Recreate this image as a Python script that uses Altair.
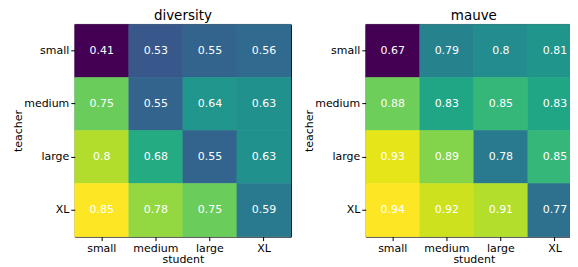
import altair as alt
import pandas as pd

sizes = ["small", "medium", "large", "XL"]

# rows = teacher (top to bottom), columns = student (left to right)
diversity = [
    [0.41, 0.53, 0.55, 0.56],
    [0.75, 0.55, 0.64, 0.63],
    [0.80, 0.68, 0.55, 0.63],
    [0.85, 0.78, 0.75, 0.59],
]
mauve = [
    [0.67, 0.79, 0.80, 0.81],
    [0.88, 0.83, 0.85, 0.83],
    [0.93, 0.89, 0.78, 0.85],
    [0.94, 0.92, 0.91, 0.77],
]


def to_df(matrix):
    rows = []
    for i, t in enumerate(sizes):
        for j, s in enumerate(sizes):
            v = matrix[i][j]
            rows.append({"teacher": t, "student": s, "value": v, "label": str(v)})
    return pd.DataFrame(rows)


FONT = "DejaVu Sans"


def panel(matrix, title):
    df = to_df(matrix)
    base = alt.Chart(df).encode(
        x=alt.X("student:N", sort=sizes, title="student",
                axis=alt.Axis(labelAngle=0)),
        y=alt.Y("teacher:N", sort=sizes, title="teacher"),
    )
    vals = [v for r in matrix for v in r]
    sc = alt.Scale(scheme="viridis", domain=[min(vals), max(vals)])
    rect = base.mark_rect(strokeWidth=0.6).encode(
        color=alt.Color("value:Q", scale=sc, legend=None),
        stroke=alt.Stroke("value:Q", scale=sc, legend=None),
    )
    text = base.mark_text(color="white", font=FONT, fontSize=11).encode(
        text="label:N"
    )
    return (rect + text).properties(
        width=217, height=213,
        title=alt.TitleParams(title, font=FONT, fontSize=13.5, fontWeight="normal",
                              offset=1.5, color="black"),
    )


chart = alt.hconcat(panel(diversity, "diversity"), panel(mauve, "mauve"), spacing=11).resolve_scale(
    color="independent", stroke="independent"
).properties(
    padding={"left": 4, "top": 0, "right": -13, "bottom": 0}
).configure_view(
    stroke="black", strokeWidth=1
).configure_axis(
    labelFont=FONT, labelFontSize=11, labelColor="black",
    titleFont=FONT, titleFontSize=11, titleFontWeight="normal", titleColor="black",
    tickColor="black", tickSize=4, domain=False, grid=False,
    labelPadding=2, titlePadding=0,
)

chart.save("out.html", embed_options={"renderer": "svg", "actions": False})
